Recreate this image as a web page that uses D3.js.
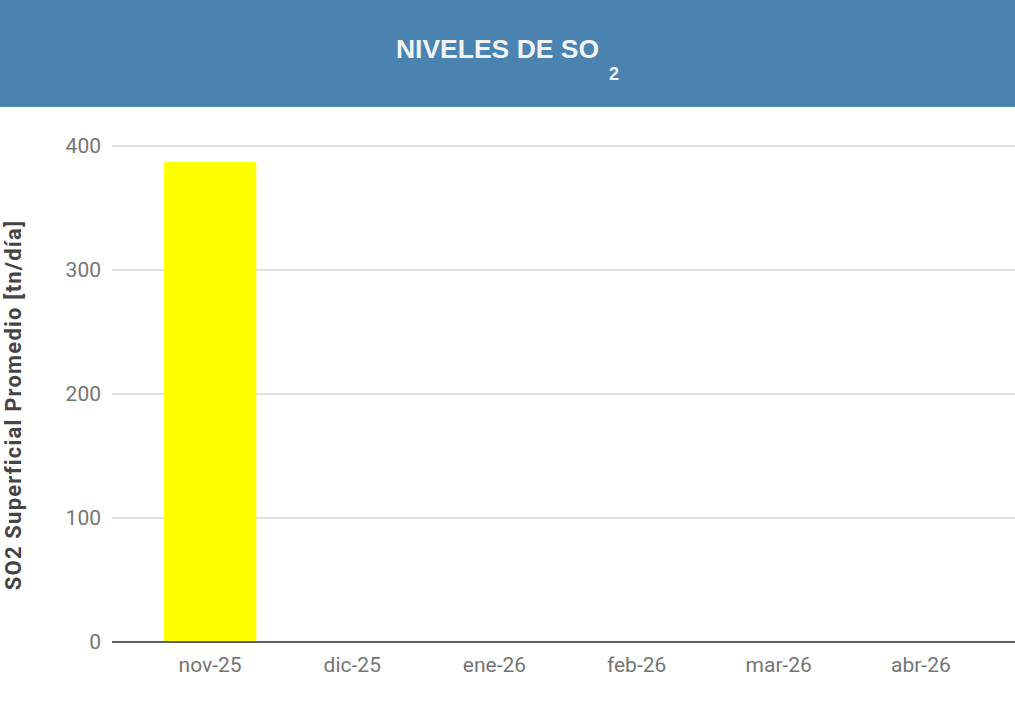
<!DOCTYPE html>
<html>
<head>
<meta charset="utf-8">
<script src="https://cdn.jsdelivr.net/npm/d3@7"></script>
<style>
  html, body { margin: 0; padding: 0; background: #fff; }
  svg { display: block; }
</style>
</head>
<body>
<svg id="chart" width="1015" height="703"></svg>
<script>
// Monthly average surface SO2 (tn/día)
const months = ["nov-25", "dic-25", "ene-26", "feb-26", "mar-26", "abr-26"];
const so2Values = [387, null, null, null, null, null];
const yTicks = [0, 100, 200, 300, 400];

const W = 1015, H = 703;
const svg = d3.select("#chart");

// Header band with title
svg.append("rect")
  .attr("x", 0).attr("y", 0)
  .attr("width", W).attr("height", 107)
  .attr("fill", "#4a83b0");

const title = svg.append("text")
  .attr("x", W / 2)
  .attr("y", 58)
  .attr("text-anchor", "middle")
  .attr("fill", "#f2f2f2")
  .style("font-family", "'Liberation Sans', Arial, sans-serif")
  .style("font-weight", "bold")
  .style("font-size", "26.5px");
title.append("tspan").text("NIVELES DE SO");
title.append("tspan")
  .attr("dx", 10)
  .attr("dy", 22)
  .style("font-size", "18px")
  .text("2");

// Plot area
const plotLeft = 112, plotRight = 1015;
const x = d3.scaleBand()
  .domain(months)
  .range([139, 992])
  .paddingInner(0.35)
  .paddingOuter(0.175);

const y = d3.scaleLinear()
  .domain([0, 400])
  .range([642, 146]);

// Gridlines
svg.append("g")
  .selectAll("line")
  .data(yTicks.filter(d => d !== 0))
  .join("line")
  .attr("x1", plotLeft).attr("x2", plotRight)
  .attr("y1", d => y(d)).attr("y2", d => y(d))
  .attr("stroke", "#d6d6d6")
  .attr("stroke-width", 1.5);

// Y axis labels
const yAxis = d3.axisLeft(y).tickValues(yTicks).tickSize(0).tickPadding(0);
svg.append("g")
  .attr("transform", "translate(101,0)")
  .call(yAxis)
  .call(g => g.select(".domain").remove())
  .call(g => g.selectAll("text")
    .attr("fill", "#757575")
    .style("font-family", "Roboto, sans-serif")
    .style("font-size", "21px"));

// Bars
svg.append("g")
  .selectAll("rect")
  .data(months.map((m, i) => ({ m, v: so2Values[i] })).filter(d => d.v != null))
  .join("rect")
  .attr("x", d => x(d.m))
  .attr("y", d => y(d.v))
  .attr("width", x.bandwidth())
  .attr("height", d => y(0) - y(d.v))
  .attr("rx", 2)
  .attr("fill", "#ffff00");

// Baseline
svg.append("line")
  .attr("x1", plotLeft).attr("x2", plotRight)
  .attr("y1", y(0)).attr("y2", y(0))
  .attr("stroke", "#5f5f5f")
  .attr("stroke-width", 2);

// X axis labels
const xAxis = d3.axisBottom(x).tickSize(0).tickPadding(0);
svg.append("g")
  .attr("transform", `translate(0,${y(0) + 15})`)
  .call(xAxis)
  .call(g => g.select(".domain").remove())
  .call(g => g.selectAll("text")
    .attr("fill", "#757575")
    .attr("dy", "0.71em")
    .style("font-family", "Roboto, sans-serif")
    .style("font-size", "21px"));

// Y axis title
svg.append("text")
  .attr("transform", "translate(21,405) rotate(-90)")
  .attr("text-anchor", "middle")
  .attr("fill", "#444")
  .style("font-family", "Roboto, sans-serif")
  .style("font-weight", "bold")
  .style("font-size", "22px")
  .style("letter-spacing", "1.2px")
  .text("SO2 Superficial Promedio [tn/día]");
</script>
</body>
</html>
